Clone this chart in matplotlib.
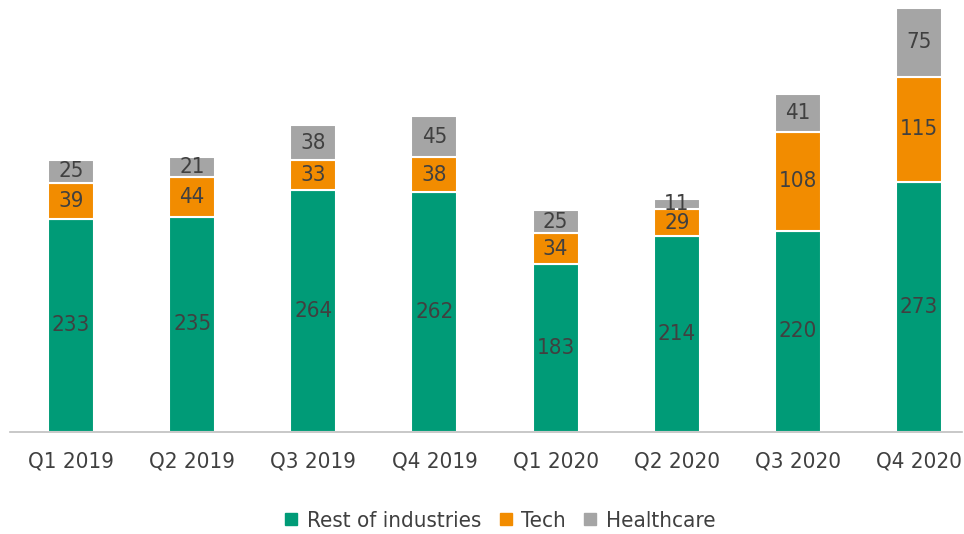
import matplotlib
matplotlib.use("Agg")
import matplotlib.pyplot as plt
from matplotlib.lines import Line2D
from matplotlib import font_manager

categories = ["Q1 2019", "Q2 2019", "Q3 2019", "Q4 2019", "Q1 2020", "Q2 2020", "Q3 2020", "Q4 2020"]
rest = [233, 235, 264, 262, 183, 214, 220, 273]
tech = [39, 44, 33, 38, 34, 29, 108, 115]
health = [25, 21, 38, 45, 25, 11, 41, 75]
series_names = ["Rest of industries", "Tech", "Healthcare"]
colors = ["#009B77", "#F28C00", "#A5A5A5"]

names = {f.name for f in font_manager.fontManager.ttflist}
if "Liberation Sans Narrow" in names:
    plt.rcParams['font.family'] = ['Liberation Sans Narrow', 'DejaVu Sans']
else:
    plt.rcParams['font.family'] = ['DejaVu Sans']
    plt.rcParams['font.stretch'] = 'condensed'
txt = "#404040"

W, H = 964, 534
fig = plt.figure(figsize=(W / 100, H / 100), dpi=100)
ax = fig.add_axes([10 / W, (H - 432) / H, (962 - 10) / W, (432 - 8) / H])

x = list(range(len(categories)))
bottom = [0] * len(categories)
for vals, col in zip([rest, tech, health], colors):
    ax.bar(x, vals, 0.38, bottom=bottom, color=col, edgecolor="white", linewidth=1.5)
    for xi, v, b in zip(x, vals, bottom):
        ax.text(xi, b + v / 2, str(v), ha="center", va="center", fontsize=16, color=txt)
    bottom = [b + v for b, v in zip(bottom, vals)]

ax.set_xlim(-0.504, 7.355)
ax.set_ylim(0, 463)
for s in ["top", "right", "left"]:
    ax.spines[s].set_visible(False)
ax.spines["bottom"].set_color("#BFBFBF")
ax.spines["bottom"].set_linewidth(1.2)
ax.set_yticks([])
ax.set_xticks(x)
ax.set_xticklabels(categories, fontsize=16, color=txt)
ax.tick_params(axis="x", length=0, pad=14)

handles = [Line2D([], [], marker="s", linestyle="none", markersize=8, markerfacecolor=c, markeredgecolor=c) for c in colors]
fig.legend(handles, series_names, loc="center", bbox_to_anchor=(499 / W, 1 - 521 / H), ncol=3, frameon=False,
           fontsize=16, labelcolor=txt, handlelength=0.8, handletextpad=0.3, columnspacing=0.7)

fig.savefig("out.png", dpi=100)
